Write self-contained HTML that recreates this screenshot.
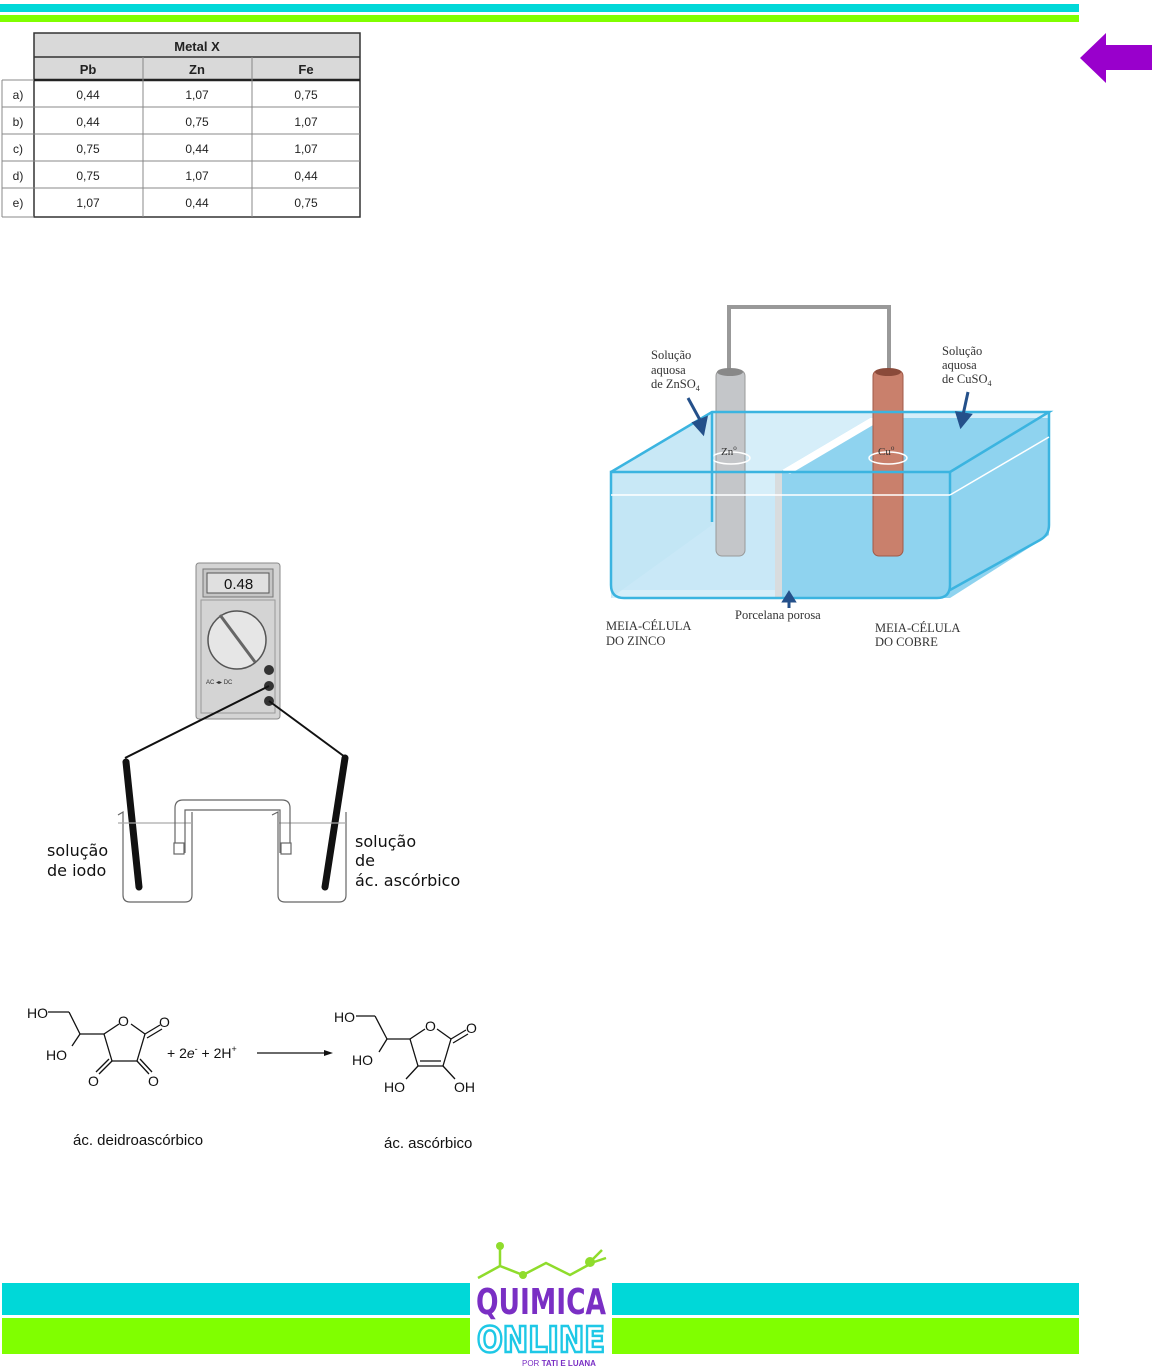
<!DOCTYPE html>
<html><head><meta charset="utf-8"><style>
html,body{margin:0;padding:0;background:#fff;}
svg{display:block;}
</style></head><body>
<svg width="1152" height="1368" viewBox="0 0 1152 1368" xmlns="http://www.w3.org/2000/svg" font-family="Liberation Sans, sans-serif">
<!-- header bands -->
<rect x="0" y="4" width="1079" height="8" fill="#00d8d8"/>
<rect x="0" y="15" width="1079" height="7" fill="#80ff00"/>
<!-- purple arrow -->
<polygon points="1080,58 1106,33 1106,45 1152,45 1152,70 1106,70 1106,83" fill="#9900cc"/>

<!-- table -->
<g font-size="12" fill="#222">
<rect x="34" y="33" width="326" height="47" fill="#d9d9d9"/>
<rect x="34" y="33" width="326" height="184" fill="none" stroke="#333" stroke-width="1.5"/>
<line x1="34" y1="57" x2="360" y2="57" stroke="#333" stroke-width="1.5"/>
<line x1="34" y1="80" x2="360" y2="80" stroke="#222" stroke-width="2.5"/>
<g stroke="#888" stroke-width="1">
<line x1="143" y1="57" x2="143" y2="217"/><line x1="252" y1="57" x2="252" y2="217"/>
<line x1="2" y1="107" x2="360" y2="107"/><line x1="2" y1="134" x2="360" y2="134"/>
<line x1="2" y1="161" x2="360" y2="161"/><line x1="2" y1="188" x2="360" y2="188"/>
<line x1="2" y1="80" x2="34" y2="80"/><line x1="2" y1="217" x2="34" y2="217"/>
<line x1="2" y1="80" x2="2" y2="217"/>
</g>
<g font-weight="bold" font-size="13" text-anchor="middle">
<text x="197" y="51">Metal X</text>
<text x="88" y="74">Pb</text><text x="197" y="74">Zn</text><text x="306" y="74">Fe</text>
</g>
<g text-anchor="middle">
<text x="18" y="99">a)</text><text x="88" y="99">0,44</text><text x="197" y="99">1,07</text><text x="306" y="99">0,75</text>
<text x="18" y="126">b)</text><text x="88" y="126">0,44</text><text x="197" y="126">0,75</text><text x="306" y="126">1,07</text>
<text x="18" y="153">c)</text><text x="88" y="153">0,75</text><text x="197" y="153">0,44</text><text x="306" y="153">1,07</text>
<text x="18" y="180">d)</text><text x="88" y="180">0,75</text><text x="197" y="180">1,07</text><text x="306" y="180">0,44</text>
<text x="18" y="207">e)</text><text x="88" y="207">1,07</text><text x="197" y="207">0,44</text><text x="306" y="207">0,75</text>
</g>
</g>

<!-- electrochemical cell -->
<g>
<polygon points="712,412 1049,412 1049,535 950,598 611,598 611,472" fill="#d6eef9"/>
<polygon points="782,470 870,418 1049,418 1049,535 950,598 782,598" fill="#8fd3ef"/>
<polygon points="611,472 712,412 712,525 611,598" fill="#c8e8f6"/>
<polygon points="611,495 950,495 950,590 611,590" fill="#bfe4f5" opacity="0.6"/>
<polygon points="782,495 950,495 950,598 782,598" fill="#8fd3ef"/>
<polygon points="782,470 870,418 885,418 790,474" fill="#fff"/>
<path d="M729,372 V307 H889 V372" fill="none" stroke="#999" stroke-width="4"/>
<rect x="716" y="370" width="29" height="186" rx="6" fill="#c4c6c9" stroke="#999"/>
<ellipse cx="730" cy="372" rx="13" ry="4" fill="#888"/>
<rect x="873" y="370" width="30" height="186" rx="6" fill="#c9806c" stroke="#a05a48"/>
<ellipse cx="888" cy="372" rx="13" ry="4" fill="#8a4a3a"/>
<ellipse cx="731" cy="458" rx="19" ry="6" fill="none" stroke="#fff" stroke-width="1.5"/>
<ellipse cx="888" cy="458" rx="19" ry="6" fill="none" stroke="#fff" stroke-width="1.5"/>
<rect x="775" y="472" width="7" height="126" fill="#d8dcde"/>
<g fill="none" stroke="#3bb4e0" stroke-width="2.5">
<path d="M611,472 H950 V585 Q950,598 937,598 H624 Q611,598 611,585 Z"/>
<path d="M611,472 L712,412 H1049 L950,472"/>
<path d="M1049,412 V525 Q1049,535 1040,540 L950,590"/>
<path d="M712,412 V522"/>
</g>
<line x1="611" y1="495" x2="950" y2="495" stroke="#fff" stroke-width="1.5"/>
<line x1="950" y1="495" x2="1049" y2="437" stroke="#fff" stroke-width="1.5"/>
<g stroke="#24508a" stroke-width="3" fill="#24508a">
<line x1="688" y1="398" x2="700" y2="420"/><polygon points="694,423 706,418 703,433"/>
<line x1="968" y1="392" x2="963" y2="415"/><polygon points="957,413 970,415 961,426"/>
<line x1="789" y1="608" x2="789" y2="598"/><polygon points="784,601 794,601 789,593"/>
</g>
<g font-family="Liberation Serif, serif" font-size="12.5" fill="#333">
<text x="651" y="359">Solução</text><text x="651" y="374">aquosa</text><text x="651" y="388">de ZnSO<tspan font-size="8" dy="3">4</tspan></text>
<text x="942" y="355">Solução</text><text x="942" y="369">aquosa</text><text x="942" y="383">de CuSO<tspan font-size="8" dy="3">4</tspan></text>
<text x="735" y="619">Porcelana porosa</text>
<text x="606" y="630">MEIA-CÉLULA</text><text x="606" y="645">DO ZINCO</text>
<text x="875" y="632">MEIA-CÉLULA</text><text x="875" y="646">DO COBRE</text>
<text x="721" y="455" font-size="11">Zn<tspan font-size="7" dy="-5">o</tspan></text>
<text x="878" y="455" font-size="11">Cu<tspan font-size="7" dy="-5">o</tspan></text>
</g>
</g>

<!-- multimeter -->
<g>
<rect x="196" y="563" width="84" height="156" rx="3" fill="#d4d4d4" stroke="#888"/>
<rect x="203" y="569" width="70" height="28" fill="#c6c6c6" stroke="#777"/>
<rect x="207" y="573" width="62" height="20" fill="#e0e0e0" stroke="#555"/>
<text x="224" y="589" font-size="15" fill="#111">0.48</text>
<rect x="201" y="600" width="74" height="113" fill="none" stroke="#999"/>
<circle cx="237" cy="640" r="29" fill="#e6e6e6" stroke="#555" stroke-width="1.5"/>
<line x1="220" y1="615" x2="255" y2="662" stroke="#666" stroke-width="3"/>
<text x="206" y="684" font-size="6" fill="#333">AC ◂▸ DC</text>
<circle cx="269" cy="670" r="5" fill="#333"/><circle cx="269" cy="686" r="5" fill="#333"/><circle cx="269" cy="701" r="5" fill="#333"/>
</g>
<g stroke="#111" stroke-width="2" fill="none">
<line x1="269" y1="686" x2="125" y2="758"/>
<line x1="269" y1="701" x2="345" y2="757"/>
</g>
<g stroke="#111" stroke-width="7" stroke-linecap="round">
<line x1="126" y1="762" x2="139" y2="887"/>
<line x1="345" y1="758" x2="325" y2="887"/>
</g>
<g fill="none" stroke="#666" stroke-width="1.2">
<path d="M118,815 L123,812 V895 Q123,902 130,902 H185 Q192,902 192,895 V812"/>
<path d="M118,823 H192" stroke="#aaa"/>
<path d="M272,815 L278,812 V895 Q278,902 285,902 H339 Q346,902 346,895 V812"/>
<path d="M278,823 H346" stroke="#aaa"/>
<path d="M175,853 V808 Q175,800 183,800 H282 Q290,800 290,808 V853"/>
<path d="M185,853 V810 H280 V853"/>
<rect x="174" y="843" width="10" height="11" fill="#fff"/>
<rect x="281" y="843" width="10" height="11" fill="#fff"/>
</g>
<g font-family="DejaVu Sans, sans-serif" font-size="16" fill="#111">
<text x="47" y="856">solução</text><text x="47" y="876">de iodo</text>
<text x="355" y="847">solução</text><text x="355" y="866">de</text><text x="355" y="886">ác. ascórbico</text>
</g>

<!-- reaction -->
<g stroke="#111" stroke-width="1.3" fill="none">
<line x1="48" y1="1012" x2="69" y2="1012"/><line x1="69" y1="1012" x2="80" y2="1034"/>
<line x1="80" y1="1034" x2="72" y2="1046"/><line x1="80" y1="1034" x2="104" y2="1034"/>
<line x1="104" y1="1034" x2="119" y2="1024"/><line x1="131" y1="1024" x2="145" y2="1034"/>
<line x1="104" y1="1034" x2="112" y2="1061"/><line x1="112" y1="1061" x2="137" y2="1061"/>
<line x1="137" y1="1061" x2="145" y2="1034"/>
<line x1="145" y1="1034" x2="160" y2="1025"/><line x1="147" y1="1038" x2="162" y2="1029"/>
<line x1="112" y1="1061" x2="99" y2="1074"/><line x1="109" y1="1059" x2="96" y2="1072"/>
<line x1="137" y1="1061" x2="149" y2="1074"/><line x1="140" y1="1059" x2="152" y2="1072"/>
<line x1="356" y1="1016" x2="375" y2="1016"/><line x1="375" y1="1016" x2="387" y2="1039"/>
<line x1="387" y1="1039" x2="379" y2="1052"/><line x1="387" y1="1039" x2="410" y2="1039"/>
<line x1="410" y1="1039" x2="425" y2="1029"/><line x1="437" y1="1029" x2="451" y2="1039"/>
<line x1="410" y1="1039" x2="418" y2="1066"/><line x1="418" y1="1066" x2="443" y2="1066"/>
<line x1="420" y1="1061" x2="441" y2="1061"/>
<line x1="443" y1="1066" x2="451" y2="1039"/>
<line x1="451" y1="1039" x2="466" y2="1030"/><line x1="453" y1="1043" x2="468" y2="1034"/>
<line x1="418" y1="1066" x2="406" y2="1079"/><line x1="443" y1="1066" x2="455" y2="1079"/>
<line x1="257" y1="1053" x2="328" y2="1053"/>
</g>
<polygon points="333,1053 324,1050 324,1056" fill="#111"/>
<g font-size="14" fill="#111">
<text x="27" y="1018">HO</text><text x="46" y="1060">HO</text>
<text x="118" y="1026">O</text><text x="159" y="1027">O</text>
<text x="88" y="1086">O</text><text x="148" y="1086">O</text>
<text x="167" y="1058">+ 2<tspan font-style="italic">e</tspan><tspan font-size="9" dy="-6">-</tspan><tspan dy="6"> + 2H</tspan><tspan font-size="9" dy="-6">+</tspan></text>
<text x="334" y="1022">HO</text><text x="352" y="1065">HO</text>
<text x="425" y="1031">O</text><text x="466" y="1033">O</text>
<text x="384" y="1092">HO</text><text x="454" y="1092">OH</text>
<text x="73" y="1145" font-size="15">ác. deidroascórbico</text>
<text x="384" y="1148" font-size="15">ác. ascórbico</text>
</g>

<!-- footer -->
<rect x="2" y="1283" width="468" height="32" fill="#00d8d8"/>
<rect x="612" y="1283" width="467" height="32" fill="#00d8d8"/>
<rect x="2" y="1318" width="468" height="36" fill="#80ff00"/>
<rect x="612" y="1318" width="467" height="36" fill="#80ff00"/>
<g stroke="#8fdc2c" stroke-width="2.5" fill="none">
<path d="M500,1248 V1266 L478,1278 M500,1266 L523,1275 L546,1263 L570,1275 L592,1263"/>
<path d="M590,1262 L602,1250 M594,1262 L606,1258"/>
</g>
<circle cx="500" cy="1246" r="4" fill="#8fdc2c"/><circle cx="523" cy="1275" r="4" fill="#8fdc2c"/><circle cx="590" cy="1262" r="5" fill="#8fdc2c"/>
<text x="541" y="1314" text-anchor="middle" font-family="DejaVu Sans Condensed, DejaVu Sans, sans-serif" font-weight="bold" font-size="36" fill="#7a2fc4" textLength="130" lengthAdjust="spacingAndGlyphs">QUIMICA</text>
<text x="541" y="1352" text-anchor="middle" font-family="DejaVu Sans Condensed, DejaVu Sans, sans-serif" font-weight="bold" font-size="36" fill="#fff" stroke="#1ec8e6" stroke-width="2.5" textLength="128" lengthAdjust="spacingAndGlyphs">ONLINE</text>
<text x="522" y="1366" font-size="8" fill="#7a2fc4">POR <tspan font-weight="bold">TATI E LUANA</tspan></text>
</svg>
</body></html>
